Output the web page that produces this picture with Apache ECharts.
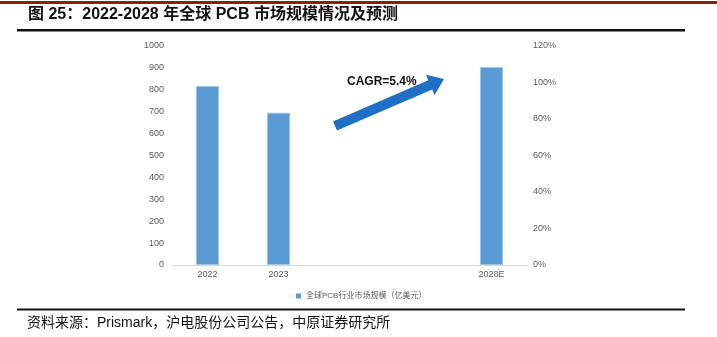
<!DOCTYPE html>
<html>
<head>
<meta charset="utf-8">
<script src="https://cdn.jsdelivr.net/npm/echarts@6/dist/echarts.min.js"></script>
<style>
html,body{margin:0;padding:0;background:#fff;}
#c{width:717px;height:337px;}
</style>
</head>
<body>
<div id="c"></div>
<script>
var categories = ['2022', '2023', '', '', '2028E'];
var marketSize = [817.4, 695.2, null, null, 904.1];
var seriesName = '全球PCB行业市场规模（亿美元）';
var leftTicks = [0, 1000, 100];
var rightTicks = [0, 1.2, 0.2];
var titleText = '图 25：2022-2028 年全球 PCB 市场规模情况及预测';
var sourceText = '资料来源：Prismark，沪电股份公司公告，中原证券研究所';
var cagrText = 'CAGR=5.4%';

var chart = echarts.init(document.getElementById('c'), null, {renderer: 'canvas'});

function arrowPoints(x0, y0, x1, y1, hw, headW, headL) {
  var dx = x1 - x0, dy = y1 - y0, L = Math.sqrt(dx*dx + dy*dy);
  var ux = dx / L, uy = dy / L, px = -uy, py = ux;
  var bx = x1 - ux * headL, by = y1 - uy * headL;
  return [
    [x0 + px*hw, y0 + py*hw],
    [bx + px*hw, by + py*hw],
    [bx + px*headW, by + py*headW],
    [x1, y1],
    [bx - px*headW, by - py*headW],
    [bx - px*hw, by - py*hw],
    [x0 - px*hw, y0 - py*hw]
  ];
}

var mixedFont = 'Liberation Sans, Noto Sans CJK SC, sans-serif';

var option = {
  animation: false,
  textStyle: {fontFamily: 'Liberation Sans, Arial, sans-serif'},
  grid: {left: 172, right: 190, top: 46, bottom: 72, containLabel: false},
  legend: {
    data: [seriesName],
    left: 291, top: 287,
    itemWidth: 5, itemHeight: 5, itemGap: 3,
    icon: 'rect',
    itemStyle: {borderWidth: 0},
    textStyle: {fontSize: 8, color: '#595959', fontFamily: mixedFont}
  },
  xAxis: {
    type: 'category',
    data: categories,
    axisLine: {lineStyle: {color: '#d9d9d9', width: 1}},
    axisTick: {show: false},
    axisLabel: {fontSize: 9, color: '#595959', margin: 5}
  },
  yAxis: [{
    type: 'value',
    min: leftTicks[0], max: leftTicks[1], interval: leftTicks[2],
    axisLine: {show: false}, axisTick: {show: false},
    splitLine: {show: false},
    axisLabel: {fontSize: 9, color: '#595959', margin: 8,
      formatter: function (v) { return String(v); }}
  }, {
    type: 'value',
    min: rightTicks[0], max: rightTicks[1], interval: rightTicks[2],
    position: 'right',
    axisLine: {show: false}, axisTick: {show: false},
    splitLine: {show: false},
    axisLabel: {fontSize: 9, color: '#595959', margin: 6,
      formatter: function (v) { return Math.round(v * 100) + '%'; }}
  }],
  series: [{
    name: seriesName,
    type: 'bar',
    data: marketSize,
    barWidth: 23,
    itemStyle: {color: '#5B9BD5', borderColor: '#9DC3E6', borderWidth: 0.8}
  }],
  graphic: [
    {type: 'rect', shape: {x: 0, y: 1, width: 717, height: 3}, style: {fill: '#8E1B1B'}},
    {type: 'text', left: 28, top: 7, style: {text: titleText, fontSize: 16, fontWeight: 'bold', fill: '#111', fontFamily: mixedFont}},
    {type: 'rect', shape: {x: 17, y: 29, width: 668, height: 2.5}, style: {fill: '#111'}},
    {type: 'rect', shape: {x: 17, y: 308.5, width: 668, height: 2}, style: {fill: '#111'}},
    {type: 'text', left: 27, top: 316, style: {text: sourceText, fontSize: 14, fill: '#111', fontFamily: mixedFont}},
    {type: 'polygon', shape: {points: arrowPoints(335, 126, 444, 79, 5, 11, 15)}, style: {fill: '#1F6FC5'}},
    {type: 'text', left: 347, top: 76, style: {text: cagrText, fontSize: 12, fontWeight: 'bold', fill: '#111', fontFamily: 'Liberation Sans, Arial, sans-serif'}}
  ]
};
chart.setOption(option);
</script>
</body>
</html>
